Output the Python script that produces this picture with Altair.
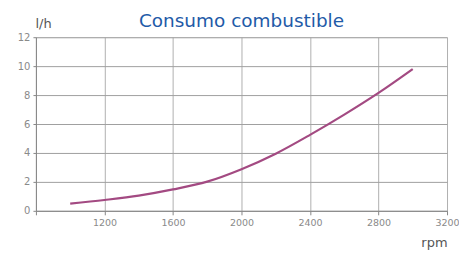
import altair as alt
import pandas as pd

rpm = [1000, 1200, 1400, 1600, 1800, 2000, 2200, 2400, 2600, 2800, 3000]
consumo = [0.5, 0.75, 1.05, 1.48, 2.02, 2.88, 3.95, 5.25, 6.65, 8.15, 9.8]
x_ticks = [800, 1200, 1600, 2000, 2400, 2800, 3200]
y_ticks = [0, 2, 4, 6, 8, 10, 12]

df = pd.DataFrame({"rpm": rpm, "consumo": consumo})

chart = alt.Chart(df).mark_line(
    color="#a34a82", strokeWidth=2.2, interpolate="monotone"
).encode(
    x=alt.X("rpm:Q",
            scale=alt.Scale(domain=[800, 3200], nice=False, zero=False),
            axis=alt.Axis(values=x_ticks, title="rpm",
                          labelExpr="datum.value == 800 ? '' : datum.label",
                          format="d", labelFlush=False, labelOverlap=False,
                          labelBound=False,
                          titleAlign="right", titleAnchor="end",
                          titleX=412, titleY=36, titleBaseline="alphabetic",
                          titleFontSize=13, titleFontWeight="normal",
                          titleColor="#555555",
                          labelFontSize=9.5, labelColor="#8a8a8a",
                          labelPadding=3, tickSize=4, tickColor="#888888",
                          domainColor="#888888",
                          gridColor="#b0b0b0", gridWidth=1)),
    y=alt.Y("consumo:Q",
            scale=alt.Scale(domain=[0, 12], nice=False),
            axis=alt.Axis(values=y_ticks, title="l/h", titleAngle=0,
                          titleAlign="left", titleX=-1, titleY=-10,
                          titleBaseline="alphabetic",
                          titleFontSize=13, titleFontWeight="normal",
                          titleColor="#555555",
                          labelFontSize=10, labelColor="#8a8a8a",
                          labelPadding=3, tickSize=3, tickColor="#888888",
                          domainColor="#888888",
                          gridColor="#a0a0a0", gridWidth=1)),
).properties(
    width=412, height=174,
    autosize=alt.AutoSizeParams(type="none"),
    padding={"left": 28, "top": 29, "right": 12, "bottom": 40},
    title=alt.TitleParams("Consumo combustible", fontSize=18.5,
                          fontWeight="normal", color="#1f5ba8",
                          anchor="middle", offset=-13, font="DejaVu Sans"),
).configure_view(
    stroke="#b0b0b0"
).configure(
    font="DejaVu Sans"
)

chart.save("out.html", embed_options={"renderer": "svg", "actions": False})
